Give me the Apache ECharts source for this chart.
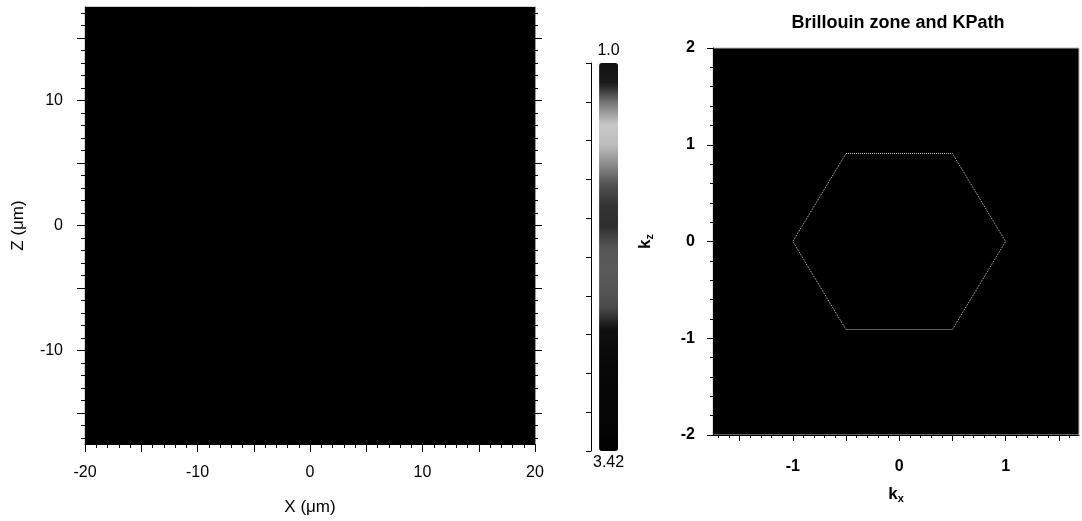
<!DOCTYPE html>
<html>
<head>
<meta charset="utf-8">
<script src="https://cdn.jsdelivr.net/npm/echarts@6.0.0/dist/echarts.min.js"></script>
<style>
  html, body { margin: 0; padding: 0; background: #fff; }
  #chart { width: 1082px; height: 521px; }
</style>
</head>
<body>
<div id="chart"></div>
<script>
// left panel: index field (cell edges in um, values per cell)
const fieldXEdges = [-20, -10, 0, 10, 20];
const fieldZEdges = [-17.5, 0, 17.5];
const fieldValues = [
  [3.42, 3.42, 3.42, 3.42],
  [3.42, 3.42, 3.42, 3.42],
];
const indexMin = 1.0;
const indexMax = 3.42;
const colorbarText = ['3.42', '1.0'];
// colour ramp of the bar, top (1.0) to bottom (3.42)
const rampColors = ['#111111', '#1a1a1a', '#7a7a7a', '#c8c8c8', '#bdbdbd', '#8a8a8a',
  '#505050', '#333333', '#2e2e2e', '#555555', '#5a5a5a', '#555555', '#4a4a4a',
  '#111111', '#0a0a0a', '#080808', '#060606', '#050505', '#040404', '#000000'];

const xLabels = [-20, -10, 0, 10, 20];
const zLabels = [-10, 0, 10];

// right panel: Brillouin zone path
const kPathX = [-0.5, 0.5, 1.0, 0.5, -0.5, -1.0, -0.5];
const kPathZ = [0.91, 0.91, 0, -0.91, -0.91, 0, 0.91];
const kxLabels = [-1, 0, 1];

const range = (a, b, s) => {
  const out = [];
  for (let v = a; v <= b + 1e-9; v += s) out.push(Math.round(v * 100) / 100);
  return out;
};

const cells = [];
fieldValues.forEach((row, j) => {
  row.forEach((v, i) => {
    cells.push([fieldXEdges[i], fieldXEdges[i + 1], fieldZEdges[j], fieldZEdges[j + 1], v]);
  });
});

const font = 'Liberation Sans, Arial, sans-serif';
const lbl = {color: '#000', fontFamily: font, fontSize: 16};
const blbl = {color: '#000', fontFamily: font, fontSize: 16, fontWeight: 'bold'};
const tk = (len, values) => ({show: true, length: len, customValues: values, lineStyle: {color: '#000', width: 1}});
const line = (show, color) => ({show: show, onZero: false, lineStyle: {color: color || '#000'}});
const kName = {...blbl, fontSize: 17, rich: {s: {fontFamily: font, fontSize: 11, fontWeight: 'bold', padding: [9, 0, 0, 0]}}};

const chart = echarts.init(document.getElementById('chart'));
chart.setOption({
  animation: false,
  backgroundColor: '#fff',
  title: {
    text: 'Brillouin zone and KPath',
    left: 893, top: 9, textAlign: 'center',
    textStyle: {fontFamily: font, fontSize: 18, fontWeight: 'bold', color: '#000'}
  },
  grid: [
    {left: 85, top: 7, width: 450, height: 440, show: true, borderColor: '#aaa', borderWidth: 1, backgroundColor: '#000'},
    {left: 591, top: 63, width: 1, height: 388},
    {left: 713, top: 48, width: 366, height: 387, show: true, borderColor: '#bbb', borderWidth: 1, backgroundColor: '#000'}
  ],
  xAxis: [
    {gridIndex: 0, type: 'value', min: -20, max: 20, position: 'bottom',
      name: 'X (μm)', nameLocation: 'middle', nameGap: 55, nameTextStyle: {...lbl, fontSize: 17},
      axisLine: line(true), splitLine: {show: false},
      axisTick: tk(8, range(-20, 20, 5)),
      axisLabel: {customValues: xLabels, margin: 21, ...lbl}},
    {gridIndex: 0, type: 'value', min: -20, max: 20, position: 'bottom',
      axisLine: line(false), splitLine: {show: false},
      axisTick: tk(4, range(-20, 20, 1)), axisLabel: {show: false}},
    {gridIndex: 1, type: 'value', min: 0, max: 1, show: false},
    {gridIndex: 2, type: 'value', min: -1.75, max: 1.69, position: 'bottom',
      name: 'k{s|x}', nameLocation: 'middle', nameGap: 49, nameTextStyle: kName,
      axisLine: line(true), splitLine: {show: false},
      axisTick: tk(6, range(-1.5, 1.5, 0.5)),
      axisLabel: {customValues: kxLabels, margin: 24, ...blbl}},
    {gridIndex: 2, type: 'value', min: -1.75, max: 1.69, position: 'bottom',
      axisLine: line(false), splitLine: {show: false},
      axisTick: tk(3, range(-1.7, 1.6, 0.1)), axisLabel: {show: false}}
  ],
  yAxis: [
    {gridIndex: 0, type: 'value', min: -17.5, max: 17.5, position: 'left',
      name: 'Z (μm)', nameLocation: 'middle', nameGap: 58, nameRotate: 90, nameTextStyle: {...lbl, fontSize: 17},
      axisLine: line(true), splitLine: {show: false},
      axisTick: tk(8, range(-15, 15, 5)),
      axisLabel: {customValues: zLabels, margin: 22, ...lbl}},
    {gridIndex: 0, type: 'value', min: -17.5, max: 17.5, position: 'left',
      axisLine: line(false), splitLine: {show: false},
      axisTick: tk(4, range(-17, 17, 1)), axisLabel: {show: false}},
    {gridIndex: 0, type: 'value', min: -17.5, max: 17.5, position: 'right',
      axisLine: line(true, '#999'), splitLine: {show: false},
      axisTick: tk(7, range(-15, 15, 5)), axisLabel: {show: false}},
    {gridIndex: 0, type: 'value', min: -17.5, max: 17.5, position: 'right',
      axisLine: line(false), splitLine: {show: false},
      axisTick: tk(3, range(-17, 17, 1)), axisLabel: {show: false}},
    {gridIndex: 1, type: 'value', min: 0, max: 10, interval: 1, position: 'left',
      axisLine: line(true), splitLine: {show: false},
      axisTick: {show: true, length: 5, lineStyle: {color: '#000'}}, axisLabel: {show: false}},
    {gridIndex: 2, type: 'value', min: -2, max: 2, interval: 1, position: 'left',
      name: 'k{s|z}', nameLocation: 'middle', nameGap: 58, nameRotate: 90, nameTextStyle: kName,
      axisLine: line(true), splitLine: {show: false},
      axisTick: {show: true, length: 6, lineStyle: {color: '#000'}},
      minorTick: {show: true, splitNumber: 5, length: 3, lineStyle: {color: '#000'}},
      minorSplitLine: {show: false},
      axisLabel: {margin: 18, ...blbl}}
  ],
  visualMap: {
    type: 'continuous', seriesIndex: 0, dimension: 4,
    min: indexMin, max: indexMax, inverse: true, calculable: false,
    left: 578, top: 28, itemWidth: 19, itemHeight: 388,
    text: colorbarText, textGap: 4,
    textStyle: {fontFamily: font, fontSize: 16, color: '#000'},
    inRange: {color: rampColors}
  },
  series: [
    {
      type: 'custom', xAxisIndex: 0, yAxisIndex: 0,
      encode: {x: [0, 1], y: [2, 3]},
      data: cells,
      renderItem: (params, api) => {
        const p0 = api.coord([api.value(0), api.value(3)]);
        const p1 = api.coord([api.value(1), api.value(2)]);
        return {type: 'rect', shape: {x: p0[0], y: p0[1], width: p1[0] - p0[0], height: p1[1] - p0[1]},
          style: {fill: api.visual('color')}};
      }
    },
    {
      type: 'line', xAxisIndex: 3, yAxisIndex: 5,
      data: kPathX.map((x, i) => [x, kPathZ[i]]),
      showSymbol: false, symbol: 'none',
      lineStyle: {color: '#c8c8c8', width: 1, type: 'dotted'}
    }
  ]
});
</script>
</body>
</html>
